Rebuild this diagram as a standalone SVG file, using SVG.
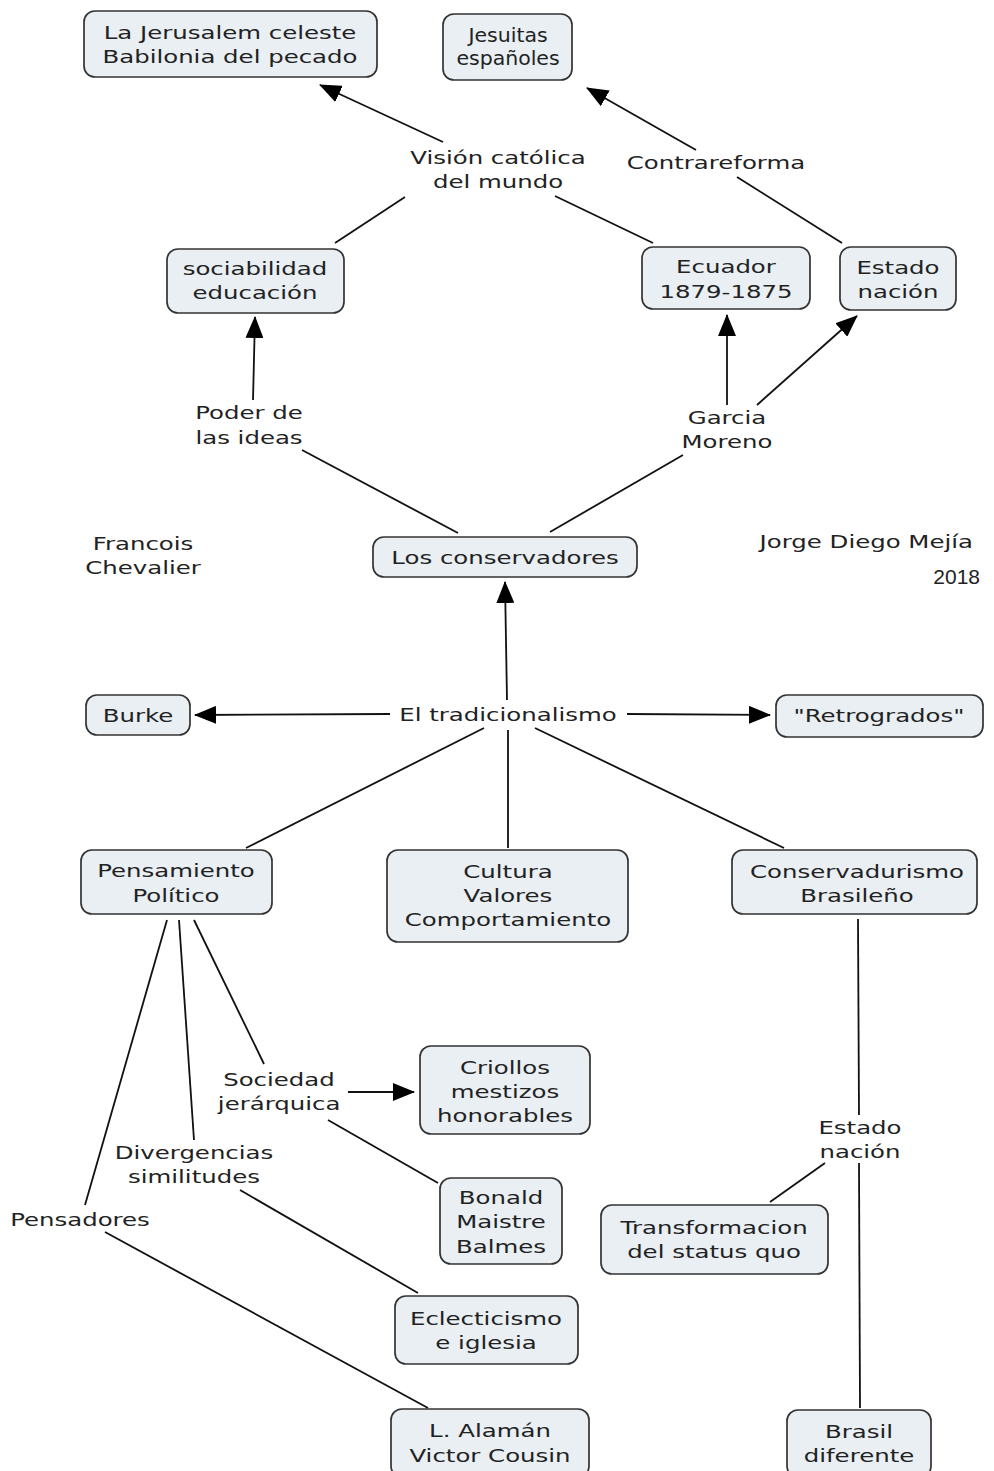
<svg xmlns="http://www.w3.org/2000/svg" width="994" height="1471" viewBox="0 0 994 1471">
<defs>
<style>
.n rect{fill:#e9eff3;stroke:#333;stroke-width:1.7}
text{font-family:"DejaVu Sans","Verdana",sans-serif;font-size:18.5px;fill:#222;text-anchor:middle;transform-box:fill-box;transform-origin:center;transform:scaleX(1.32)}
text.plain{transform:none}
.c line{stroke:#111;stroke-width:1.8;fill:none}
.a{marker-end:url(#ah)}
</style>
<marker id="ah" markerUnits="userSpaceOnUse" markerWidth="22" markerHeight="18" refX="21" refY="9" orient="auto">
<path d="M0,0 L22,9 L0,18 z" fill="#000"/>
</marker>
</defs>
<rect width="994" height="1471" fill="#fff"/>
<g id="connectors" class="c">
<line class="a" x1="443" y1="142" x2="320" y2="85"/>
<line x1="405" y1="197" x2="335" y2="243"/>
<line x1="555" y1="196" x2="653" y2="243"/>
<line class="a" x1="696" y1="150" x2="587" y2="88"/>
<line x1="737" y1="177" x2="842" y2="243"/>
<line class="a" x1="253" y1="400" x2="255" y2="317"/>
<line x1="302" y1="450" x2="458" y2="533"/>
<line x1="683" y1="455" x2="550" y2="532"/>
<line class="a" x1="727" y1="405" x2="727" y2="315"/>
<line class="a" x1="757" y1="405" x2="857" y2="316"/>
<line class="a" x1="507" y1="700" x2="505" y2="582"/>
<line class="a" x1="390" y1="714" x2="195" y2="715"/>
<line class="a" x1="627" y1="714" x2="770" y2="715"/>
<line x1="484" y1="728" x2="246" y2="848"/>
<line x1="508" y1="730" x2="508" y2="848"/>
<line x1="535" y1="728" x2="784" y2="848"/>
<line x1="194" y1="920" x2="264" y2="1064"/>
<line x1="179" y1="920" x2="194" y2="1140"/>
<line x1="167" y1="920" x2="85" y2="1205"/>
<line class="a" x1="348" y1="1092" x2="414" y2="1092"/>
<line x1="328" y1="1120" x2="438" y2="1183"/>
<line x1="240" y1="1190" x2="418" y2="1293"/>
<line x1="105" y1="1232" x2="428" y2="1408"/>
<line x1="858" y1="919" x2="859" y2="1115"/>
<line x1="825" y1="1163" x2="770" y2="1202"/>
<line x1="859" y1="1163" x2="860" y2="1408"/>
</g>
<g id="n-jerusalem" class="n"><rect x="84" y="11" width="293" height="66" rx="11"/><text x="230" y="39">La Jerusalem celeste</text><text x="230" y="63">Babilonia del pecado</text></g>
<g id="n-jesuitas" class="n"><rect x="443" y="14" width="129" height="66" rx="11"/><text x="508" y="42" style="font-size:19.5px;transform:scaleX(1.05)">Jesuitas</text><text x="508" y="65" style="font-size:19.5px;transform:scaleX(1.05)">españoles</text></g>
<g id="n-sociabilidad" class="n"><rect x="167" y="249" width="177" height="64" rx="11"/><text x="255" y="275">sociabilidad</text><text x="255" y="299">educación</text></g>
<g id="n-ecuador" class="n"><rect x="642" y="247" width="168" height="62" rx="11"/><text x="726" y="273">Ecuador</text><text x="726" y="298">1879-1875</text></g>
<g id="n-estado1" class="n"><rect x="840" y="247" width="116" height="63" rx="11"/><text x="898" y="274">Estado</text><text x="898" y="298">nación</text></g>
<g id="n-conservadores" class="n"><rect x="373" y="537" width="264" height="40" rx="11"/><text x="505" y="564">Los conservadores</text></g>
<g id="n-burke" class="n"><rect x="86" y="695" width="104" height="40" rx="11"/><text x="138" y="722">Burke</text></g>
<g id="n-retrogrados" class="n"><rect x="776" y="695" width="207" height="42" rx="11"/><text x="879" y="722">"Retrogrados"</text></g>
<g id="n-pensamiento" class="n"><rect x="81" y="850" width="191" height="64" rx="11"/><text x="176" y="877">Pensamiento</text><text x="176" y="902">Político</text></g>
<g id="n-cultura" class="n"><rect x="387" y="850" width="241" height="92" rx="11"/><text x="508" y="878">Cultura</text><text x="508" y="902">Valores</text><text x="508" y="926">Comportamiento</text></g>
<g id="n-conservadurismo" class="n"><rect x="732" y="850" width="245" height="64" rx="11"/><text x="857" y="878">Conservadurismo</text><text x="857" y="902">Brasileño</text></g>
<g id="n-criollos" class="n"><rect x="420" y="1046" width="170" height="88" rx="11"/><text x="505" y="1074">Criollos</text><text x="505" y="1098">mestizos</text><text x="505" y="1122">honorables</text></g>
<g id="n-bonald" class="n"><rect x="440" y="1178" width="122" height="86" rx="11"/><text x="501" y="1204">Bonald</text><text x="501" y="1228">Maistre</text><text x="501" y="1253">Balmes</text></g>
<g id="n-transformacion" class="n"><rect x="601" y="1205" width="227" height="69" rx="11"/><text x="714" y="1234">Transformacion</text><text x="714" y="1258">del status quo</text></g>
<g id="n-eclecticismo" class="n"><rect x="395" y="1296" width="183" height="68" rx="11"/><text x="486" y="1325">Eclecticismo</text><text x="486" y="1349">e iglesia</text></g>
<g id="n-alaman" class="n"><rect x="391" y="1409" width="198" height="68" rx="11"/><text x="490" y="1437">L. Alamán</text><text x="490" y="1462">Victor Cousin</text></g>
<g id="n-brasil" class="n"><rect x="787" y="1410" width="144" height="67" rx="11"/><text x="859" y="1438">Brasil</text><text x="859" y="1462">diferente</text></g>
<g id="labels">
<g id="l-vision"><text x="498" y="164">Visión católica</text><text x="498" y="188">del mundo</text></g>
<g id="l-contrareforma"><text x="716" y="169">Contrareforma</text></g>
<g id="l-poder"><text x="249" y="419">Poder de</text><text x="249" y="444">las ideas</text></g>
<g id="l-garcia"><text x="727" y="424">Garcia</text><text x="727" y="448">Moreno</text></g>
<g id="l-chevalier"><text x="143" y="550">Francois</text><text x="143" y="574">Chevalier</text></g>
<g id="l-autor"><text x="866" y="548">Jorge Diego Mejía</text><text class="plain" x="980" y="584" style="font-family:'Liberation Sans',Arial,sans-serif;font-size:21px;text-anchor:end">2018</text></g>
<g id="l-tradicionalismo"><text x="508" y="721">El tradicionalismo</text></g>
<g id="l-sociedad"><text x="279" y="1086">Sociedad</text><text x="279" y="1110">jerárquica</text></g>
<g id="l-divergencias"><text x="194" y="1159">Divergencias</text><text x="194" y="1183">similitudes</text></g>
<g id="l-pensadores"><text x="80" y="1226">Pensadores</text></g>
<g id="l-estado2"><text x="860" y="1134">Estado</text><text x="860" y="1158">nación</text></g>
</g>
</svg>
